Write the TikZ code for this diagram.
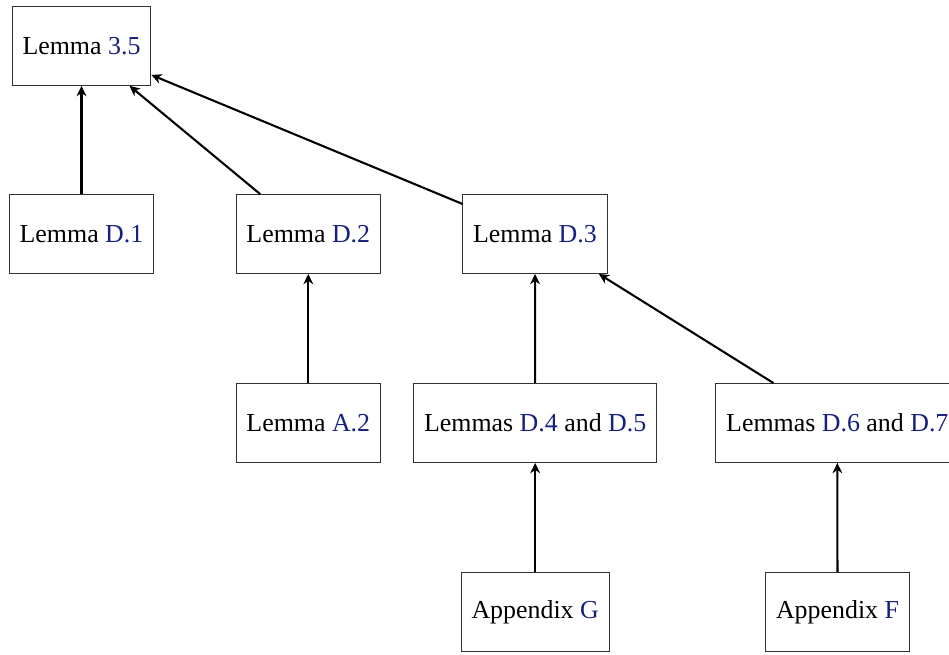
\documentclass[tikz,border=0pt]{standalone}
\usepackage{fontspec}
\usetikzlibrary{arrows.meta}
\setmainfont{Liberation Serif}
\definecolor{linkblue}{RGB}{22,32,128}
\newcommand{\lk}[1]{\textcolor{linkblue}{#1}}
\begin{document}
\begin{tikzpicture}[x=0.3861pt,y=-0.3861pt,
  box/.style={draw=black!80,line width=0.4pt,inner xsep=4pt,minimum height=30.4pt,font=\fontsize{10}{12}\selectfont},
  arr/.style={-{Stealth[length=4pt,width=3.8pt,inset=1.3pt]},thick,black}]
\useasboundingbox (0,0) rectangle (949,654);
\node[box] (l35) at (81.5,46) {Lemma \lk{3.5}};
\node[box] (d1) at (81.5,234) {Lemma \lk{D.1}};
\node[box] (d2) at (308.3,234) {Lemma \lk{D.2}};
\node[box] (d3) at (535,234) {Lemma \lk{D.3}};
\node[box] (a2) at (308.3,423) {Lemma \lk{A.2}};
\node[box] (d45) at (535.2,423) {Lemmas \lk{D.4} and \lk{D.5}};
\node[box] (d67) at (837.3,423) {Lemmas \lk{D.6} and \lk{D.7}};
\node[box] (ag) at (535.2,612) {Appendix \lk{G}};
\node[box] (af) at (837.5,612) {Appendix \lk{F}};
\draw[arr] (d1) -- (l35);
\draw[arr] (d2) -- (l35);
\draw[arr] (d3) -- (l35);
\draw[arr] (a2) -- (d2);
\draw[arr] (d45) -- (d3);
\draw[arr] (d67) -- (d3);
\draw[arr] (ag) -- (d45);
\draw[arr] (af) -- (d67);
\end{tikzpicture}
\end{document}
